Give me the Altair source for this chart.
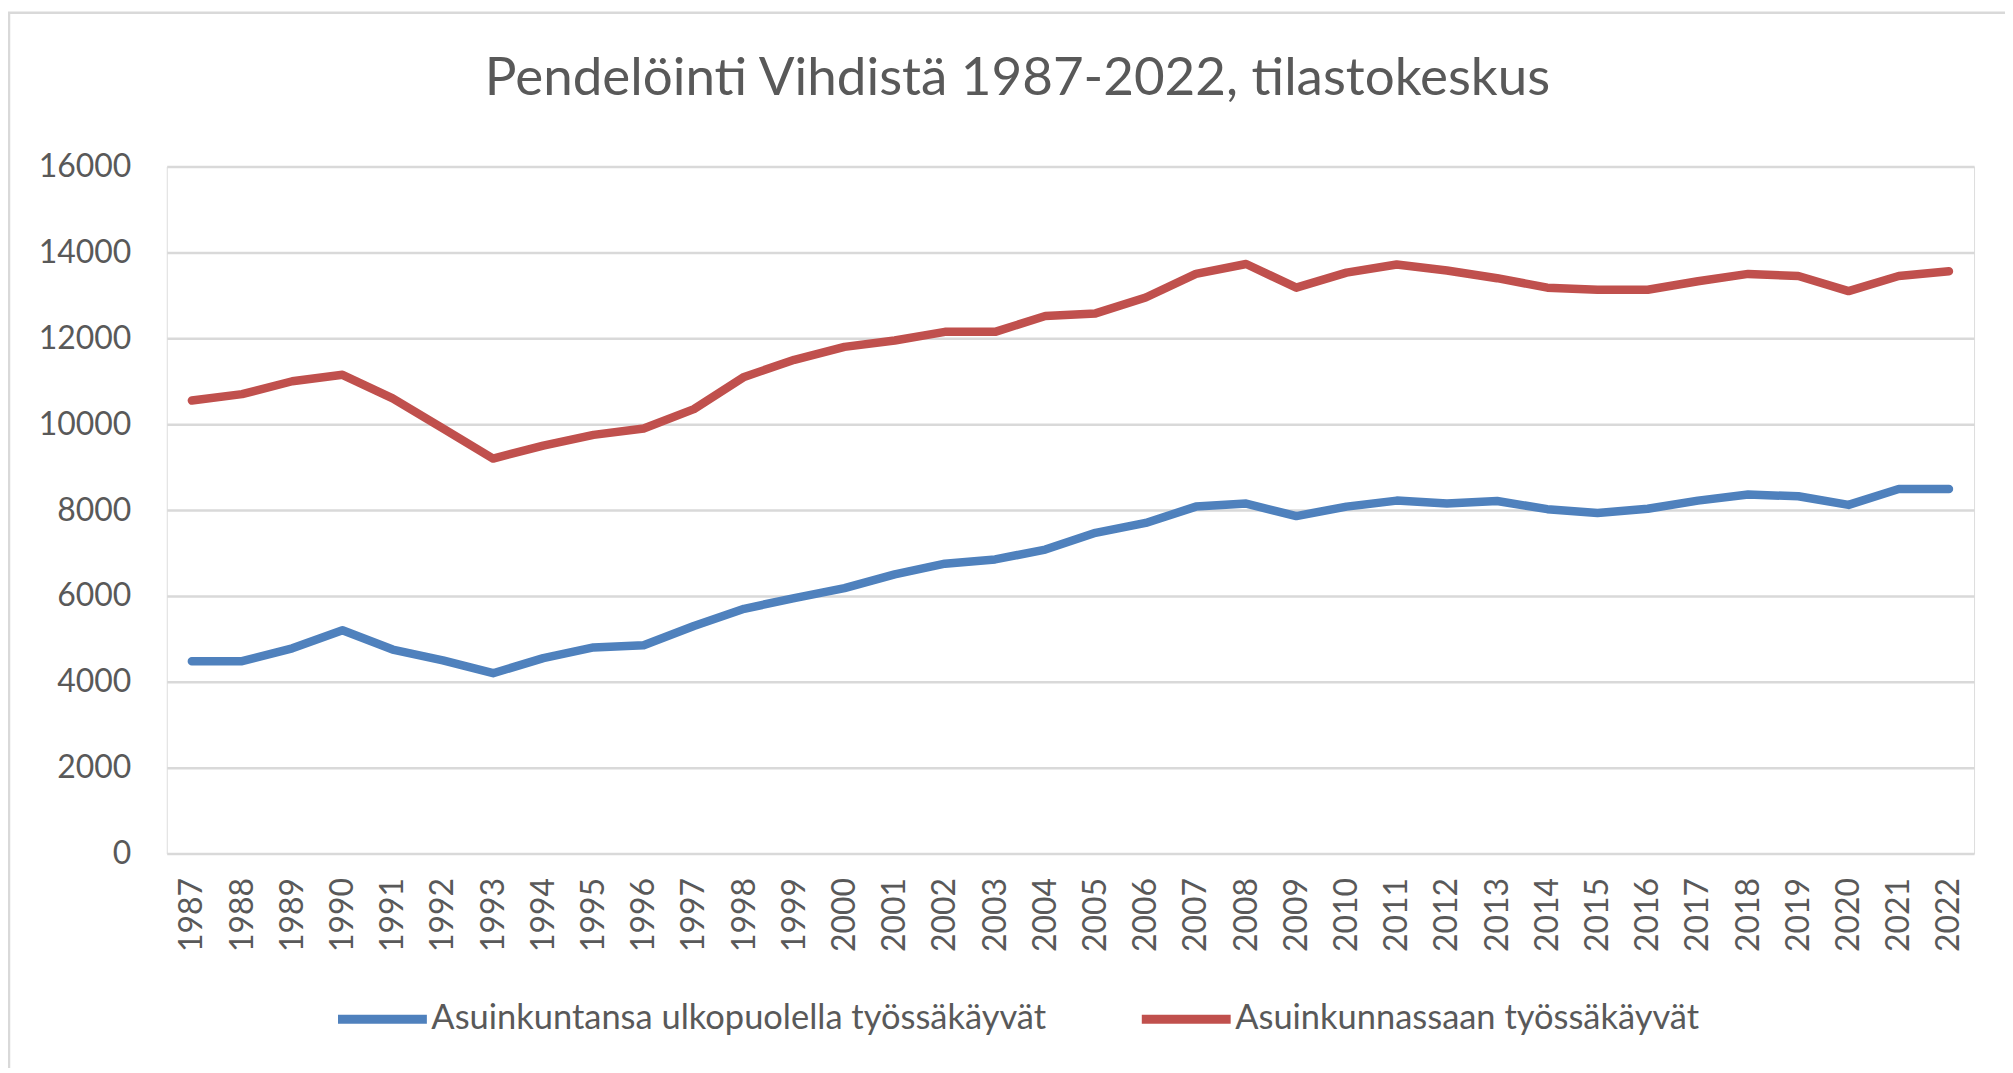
import altair as alt
import pandas as pd

years = list(range(1987, 2023))
series_out = "Asuinkuntansa ulkopuolella työssäkäyvät"
series_in = "Asuinkunnassaan työssäkäyvät"

outside = [4480, 4480, 4780, 5200, 4750, 4500, 4200, 4550, 4800, 4850,
           5300, 5700, 5950, 6180, 6500, 6750, 6850, 7080, 7470, 7700,
           8080, 8150, 7860, 8080, 8220, 8150, 8210, 8020, 7930, 8030,
           8220, 8360, 8320, 8120, 8490, 8490]
inside = [10550, 10700, 11000, 11150, 10600, 9900, 9200, 9500, 9750, 9900,
          10350, 11100, 11500, 11800, 11950, 12150, 12150, 12520, 12580, 12950,
          13500, 13730, 13180, 13530, 13720, 13580, 13400, 13180, 13130, 13130,
          13330, 13500, 13450, 13100, 13450, 13560]
y_ticks = [0, 2000, 4000, 6000, 8000, 10000, 12000, 14000, 16000]
colors = ["#4F81BD", "#C0504D"]

rows = []
for y, a, b in zip(years, outside, inside):
    rows.append({"Vuosi": str(y), "Sarja": series_out, "Arvo": a})
    rows.append({"Vuosi": str(y), "Sarja": series_in, "Arvo": b})
df = pd.DataFrame(rows)

FONT = "Lato"
TXT = "#595959"

lines = alt.Chart(df).mark_line(strokeWidth=8.5, strokeCap="round", strokeJoin="round").encode(
    x=alt.X("Vuosi:O", sort=[str(y) for y in years], title=None,
            scale=alt.Scale(padding=0.5),
            axis=alt.Axis(labelAngle=270, labelFontSize=32, labelColor=TXT, labelFont=FONT,
                          labelPadding=24, ticks=False, domain=False, grid=False)),
    y=alt.Y("Arvo:Q", title=None,
            scale=alt.Scale(domain=[0, 16000], nice=False),
            axis=alt.Axis(values=y_ticks, format="d", labelFontSize=32, labelColor=TXT,
                          labelFont=FONT, labelPadding=36, ticks=False, domain=False,
                          grid=True, gridColor="#D9D9D9", gridWidth=2.5)),
    color=alt.Color("Sarja:N", sort=[series_out, series_in],
                    scale=alt.Scale(domain=[series_out, series_in], range=colors),
                    legend=alt.Legend(title=None, orient="none", direction="horizontal",
                                      legendX=167, legendY=805, symbolType="stroke",
                                      symbolSize=7921, symbolStrokeWidth=9,
                                      labelFontSize=34.5, labelColor=TXT, labelFont=FONT,
                                      labelLimit=0, labelOffset=0, columnPadding=77,
                                      padding=0)),
)

border = alt.Chart(alt.Data(values=[{"k": 1}])).mark_rect(
    fill="transparent", stroke="#D9D9D9", strokeWidth=2.5
).encode(
    x=alt.value(-158), x2=alt.value(1900), y=alt.value(-154), y2=alt.value(1000)
)

chart = alt.layer(border, lines).properties(
    width=1810,
    height=688,
    title=alt.TitleParams("Pendelöinti Vihdistä 1987-2022, tilastokeskus",
                          fontSize=53, font=FONT, fontWeight="normal", color=TXT,
                          anchor="middle", dx=-53, offset=0, dy=95),
    autosize=alt.AutoSizeParams(type="none"),
    padding={"left": 159, "top": 158, "right": 31, "bottom": 214},
).configure_view(stroke=None).configure(background="white")

chart.save("out.html", embed_options={"renderer": "svg", "actions": False})
